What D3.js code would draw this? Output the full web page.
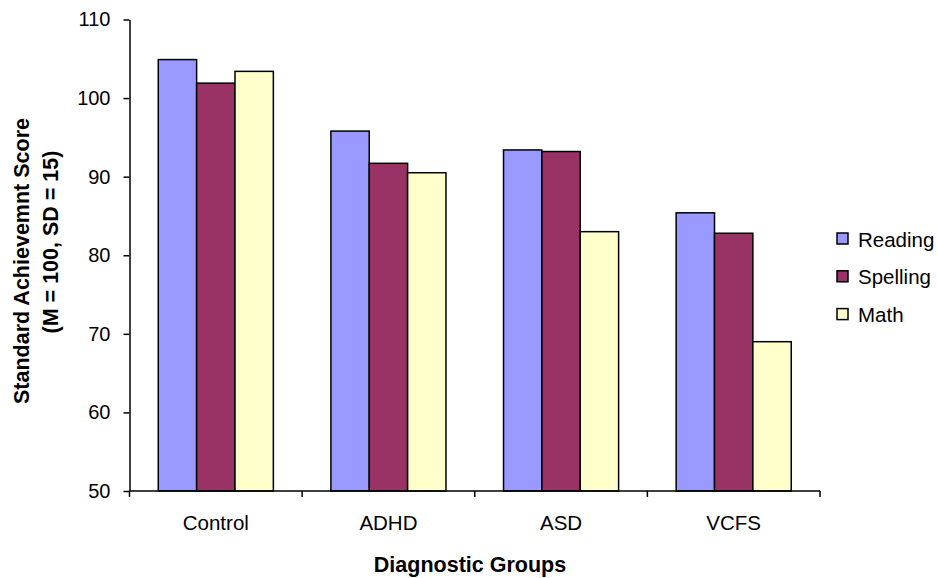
<!DOCTYPE html>
<html>
<head>
<meta charset="utf-8">
<script src="https://cdn.jsdelivr.net/npm/d3@7"></script>
<style>
  html, body { margin: 0; padding: 0; background: #fff; }
  svg { display: block; font-family: "Liberation Sans", Arial, sans-serif; }
</style>
</head>
<body>
<svg id="chart" width="937" height="578"></svg>
<script>
// Achievement scores by diagnostic group
const groups = ["Control", "ADHD", "ASD", "VCFS"];
const subjects = ["Reading", "Spelling", "Math"];
const reading = [104.9, 95.8, 93.4, 85.4];
const spelling = [101.9, 91.7, 93.2, 82.8];
const math = [103.4, 90.5, 83.0, 69.0];
const yTicks = [50, 60, 70, 80, 90, 100, 110];
const colors = ["#9999FF", "#993366", "#FFFFCC"];

const seriesValues = [reading, spelling, math];

const svg = d3.select("#chart");
const margin = { left: 129.5, right: 117, top: 19.5, bottom: 87 };
const W = 937, H = 578;

const x = d3.scaleBand()
  .domain(groups)
  .range([margin.left, W - margin.right])
  .paddingInner(0).paddingOuter(0);

// three bars per band with a 150% gap split across both sides
const barW = x.bandwidth() / 4.5;
const xs = d3.scaleBand()
  .domain(subjects)
  .range([barW * 0.75, barW * 3.75]);

const y = d3.scaleLinear()
  .domain([50, 110])
  .range([H - margin.bottom, margin.top]);

// bars
subjects.forEach((s, si) => {
  svg.append("g")
    .selectAll("rect")
    .data(groups.map((g, gi) => ({ g, v: seriesValues[si][gi] })))
    .join("rect")
    .attr("x", d => x(d.g) + xs(s))
    .attr("y", d => y(d.v))
    .attr("width", xs.bandwidth())
    .attr("height", d => y(50) - y(d.v))
    .attr("fill", colors[si])
    .attr("stroke", "#000")
    .attr("stroke-width", 1.5);
});

// y axis
const yAxis = svg.append("g")
  .attr("transform", `translate(${margin.left},0)`)
  .call(d3.axisLeft(y).tickValues(yTicks).tickSize(6).tickPadding(13).tickSizeOuter(0));
yAxis.select(".domain").attr("stroke", "#000").attr("stroke-width", 1.5);
yAxis.selectAll(".tick line").attr("stroke", "#000").attr("stroke-width", 1.5);
yAxis.selectAll("text").attr("font-size", 20).attr("fill", "#000")
  .attr("font-family", "Liberation Sans, Arial, sans-serif");

// x axis with ticks at band boundaries
const xAxisG = svg.append("g")
  .attr("transform", `translate(0,${y(50)})`);
xAxisG.append("line")
  .attr("x1", margin.left).attr("x2", W - margin.right)
  .attr("stroke", "#000").attr("stroke-width", 1.5);
const bounds = groups.map(g => x(g)).concat([x(groups[groups.length - 1]) + x.bandwidth()]);
xAxisG.selectAll("line.tk").data(bounds).join("line")
  .attr("class", "tk")
  .attr("x1", d => d).attr("x2", d => d)
  .attr("y1", 0).attr("y2", 6)
  .attr("stroke", "#000").attr("stroke-width", 1.5);
xAxisG.selectAll("text").data(groups).join("text")
  .attr("x", d => x(d) + x.bandwidth() / 2)
  .attr("y", 39)
  .attr("text-anchor", "middle")
  .attr("font-size", 20.5)
  .text(d => d);

// axis titles
svg.append("text")
  .attr("x", 470).attr("y", 572)
  .attr("text-anchor", "middle")
  .attr("font-size", 21.5).attr("font-weight", "bold")
  .text("Diagnostic Groups");

svg.append("text")
  .attr("transform", "translate(29,261) rotate(-90)")
  .attr("text-anchor", "middle")
  .attr("font-size", 21.5).attr("font-weight", "bold")
  .text("Standard Achievemnt Score");
svg.append("text")
  .attr("transform", "translate(57.5,242) rotate(-90)")
  .attr("text-anchor", "middle")
  .attr("font-size", 21.5).attr("font-weight", "bold")
  .text("(M = 100, SD = 15)");

// legend
const legend = svg.append("g").attr("transform", "translate(837,238.5)");
subjects.forEach((s, i) => {
  const row = legend.append("g").attr("transform", `translate(0,${i * 37.8})`);
  row.append("rect")
    .attr("x", 0).attr("y", -5.5).attr("width", 11).attr("height", 11)
    .attr("fill", colors[i]).attr("stroke", "#000").attr("stroke-width", 1.5);
  row.append("text")
    .attr("x", 21).attr("y", 8)
    .attr("font-size", 20.5)
    .text(s);
});
</script>
</body>
</html>
